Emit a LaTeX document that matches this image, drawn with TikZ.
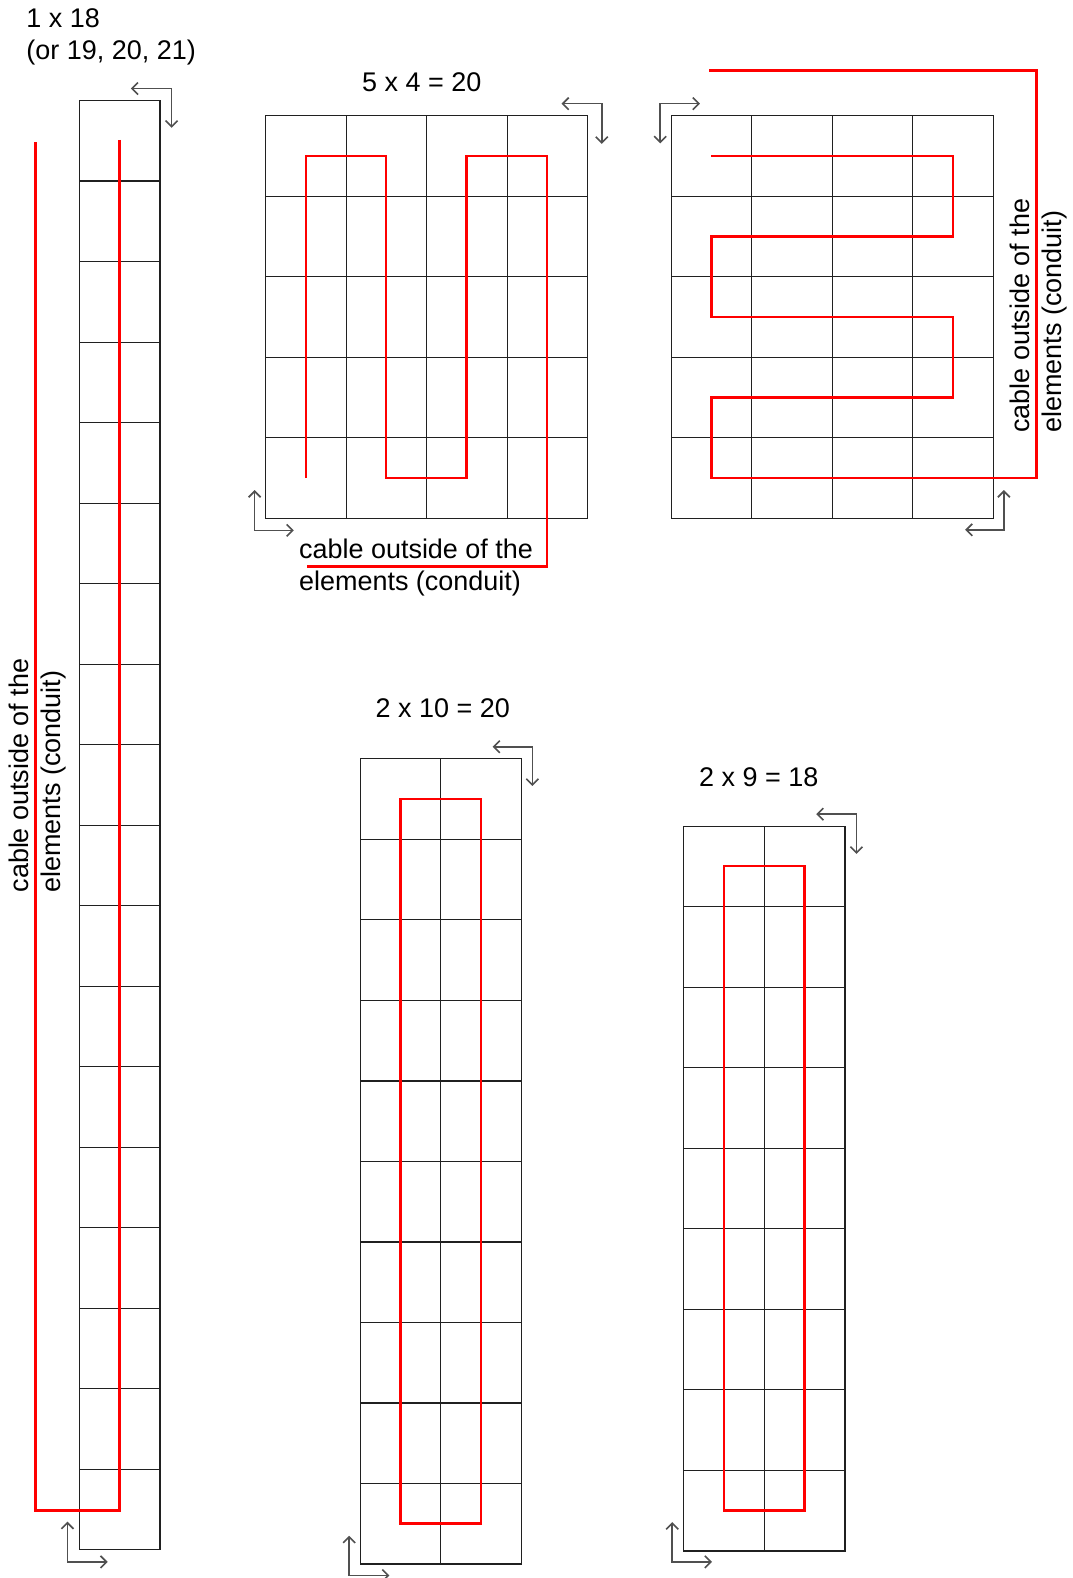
\documentclass[tikz,border=0pt]{standalone}
\usepackage{fontspec}
\setmainfont{Liberation Sans}
\usepackage{tikz}
\usetikzlibrary{arrows.meta}
\definecolor{cablered}{HTML}{FF0000}
\definecolor{turngray}{HTML}{505050}
\definecolor{cellblack}{HTML}{202020}
\tikzset{
  every node/.style={font=\fontsize{26.8}{32}\selectfont, inner sep=0pt},
  cellbox/.style={draw=cellblack, line width=1.3pt},
  cable/.style={draw=cablered, line width=2.7pt, line join=miter},
  turn/.style={
    {Straight Barb[length=6pt,width=12pt]}-{Straight Barb[length=6pt,width=12pt]},
    draw=turngray, line width=1.6pt
  },
  conduit/.style={align=left, anchor=west},
  title/.style={anchor=center},
}

\begin{document}
\begin{tikzpicture}[x=1pt, y=-1pt]
  \useasboundingbox (0,0) rectangle (1066,1568);

  % 1 x 18
  \foreach \r in {0,...,17}
    \draw[cellbox] (79,{100+80*\r}) rectangle +(80,80);
  \draw[cable] (118.5,139) -- (118.5,1501) -- (35.5,1501) -- (35.5,141);
  \draw[turn] (130,88) -- (170.5,88) -- (170.5,127);
  \draw[turn] (67,1512) -- (67,1552) -- (107,1552);
  \node[conduit] (tall) at (26,37) {1 x 18\\(or 19, 20, 21)};
  \node[conduit, rotate=90] (tallcable) at (37,887) {cable outside of the\\elements (conduit)};

  % 5 x 4 = 20, cable leaves at the bottom
  \foreach \c in {0,...,3}
    \foreach \r in {0,...,4}
      \draw[cellbox] ({264+80*\c},{115+80*\r}) rectangle +(80,80);
  \draw[cable] (304,475) -- (304,155) -- (383.5,155) -- (383.5,475) -- (463.5,475)
    -- (463.5,155) -- (543.5,155) -- (543.5,563) -- (305,563);
  \draw[turn] (558,103) -- (598,103) -- (598,143);
  \draw[turn] (253,487) -- (253,527) -- (292,527);
  \node[title] (wide) at (419,82) {5 x 4 = 20};
  \node[conduit] (widecable) at (297,564) {cable outside of the\\elements (conduit)};

  % 5 x 4 = 20, cable leaves at the side
  \foreach \c in {0,...,3}
    \foreach \r in {0,...,4}
      \draw[cellbox] ({667+80*\c},{115+80*\r}) rectangle +(80,80);
  \draw[cable] (706.5,155) -- (947,155) -- (947,235) -- (707,235) -- (707,315)
    -- (947,315) -- (947,395) -- (707,395) -- (707,475) -- (1030,475)
    -- (1030,70) -- (704.5,70);
  \draw[turn] (695.5,103) -- (656,103) -- (656,142.5);
  \draw[turn] (997.5,487) -- (997.5,526.5) -- (959,526.5);
  \node[conduit, rotate=90] (sidecable) at (1032,430) {cable outside of the\\elements (conduit)};

  % 2 x 10 = 20
  \foreach \c in {0,1}
    \foreach \r in {0,...,9}
      \draw[cellbox] ({358+80*\c},{754+80*\r}) rectangle +(80,80);
  \draw[cable] (398,794) rectangle (478,1514);
  \draw[turn] (489.5,742) -- (529,742) -- (529,781);
  \draw[turn] (347,1526) -- (347,1565.5) -- (387,1565.5);
  \node[title] (double) at (440,704) {2 x 10 = 20};

  % 2 x 9 = 18
  \foreach \c in {0,1}
    \foreach \r in {0,...,8}
      \draw[cellbox] ({679.5+80*\c},{821+80*\r}) rectangle +(80,80);
  \draw[cable] (719.5,860.5) rectangle (799.5,1501);
  \draw[turn] (811,809) -- (851,809) -- (851,848.5);
  \draw[turn] (668,1512.5) -- (668,1552) -- (707.5,1552);
  \node[title] (nine) at (754,772) {2 x 9 = 18};
\end{tikzpicture}
\end{document}
